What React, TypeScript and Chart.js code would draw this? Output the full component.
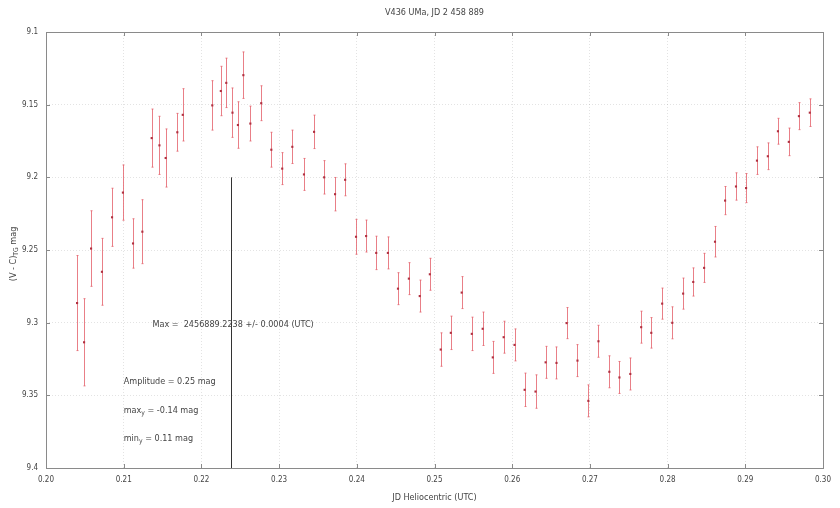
import { useEffect, useRef } from "react";
import { Chart, registerables } from "chart.js";

Chart.register(...registerables);

// ---- Data ----
const jdFraction = [
  0.2040, 0.2049, 0.2058, 0.2072, 0.2085, 0.2099, 0.2112, 0.2124, 0.2136, 0.2146,
  0.2154, 0.2169, 0.2176, 0.2214, 0.2225, 0.2232, 0.2240, 0.2247, 0.2254, 0.2263,
  0.2277, 0.2290, 0.2304, 0.2317, 0.2332, 0.2345, 0.2358, 0.2372, 0.2385, 0.2399,
  0.2412, 0.2425, 0.2440, 0.2453, 0.2467, 0.2481, 0.2494, 0.2508, 0.2521, 0.2535,
  0.2548, 0.2562, 0.2575, 0.2589, 0.2603, 0.2616, 0.2630, 0.2643, 0.2657, 0.2670,
  0.2684, 0.2698, 0.2711, 0.2725, 0.2738, 0.2752, 0.2766, 0.2779, 0.2793, 0.2806,
  0.2820, 0.2833, 0.2847, 0.2861, 0.2874, 0.2888, 0.2901, 0.2915, 0.2929, 0.2942,
  0.2956, 0.2969, 0.2983,
];

const magnitude = [
  9.2865, 9.3135, 9.2490, 9.2650, 9.2275, 9.2105, 9.2455, 9.2374, 9.1730, 9.1780,
  9.1867, 9.1690, 9.1570, 9.1505, 9.1406, 9.1350, 9.1555, 9.1640, 9.1297, 9.1630,
  9.1490, 9.1810, 9.1940, 9.1790, 9.1980, 9.1687, 9.2000, 9.2116, 9.2017, 9.2409,
  9.2404, 9.2520, 9.2520, 9.2766, 9.2697, 9.2817, 9.2667, 9.3185, 9.3070, 9.2793,
  9.3077, 9.3042, 9.3239, 9.3100, 9.3153, 9.3462, 9.3474, 9.3273, 9.3277, 9.3003,
  9.3261, 9.3538, 9.3128, 9.3338, 9.3377, 9.3353, 9.3031, 9.3070, 9.2869, 9.3001,
  9.2800, 9.2720, 9.2623, 9.2443, 9.2160, 9.2063, 9.2074, 9.1885, 9.1855, 9.1683,
  9.1756, 9.1579, 9.1555,
];

const magError = [
  0.0327, 0.0300, 0.0260, 0.0230, 0.0200, 0.0190, 0.0170, 0.0220, 0.0200, 0.0200,
  0.0200, 0.0130, 0.0180, 0.0170, 0.0170, 0.0170, 0.0170, 0.0160, 0.0160, 0.0120,
  0.0120, 0.0120, 0.0110, 0.0115, 0.0110, 0.0115, 0.0115, 0.0115, 0.0110, 0.0120,
  0.0110, 0.0115, 0.0110, 0.0110, 0.0110, 0.0110, 0.0110, 0.0115, 0.0115, 0.0110,
  0.0115, 0.0115, 0.0110, 0.0110, 0.0110, 0.0115, 0.0115, 0.0110, 0.0110, 0.0107,
  0.0110, 0.0110, 0.0110, 0.0110, 0.0110, 0.0110, 0.0110, 0.0105, 0.0107, 0.0110,
  0.0107, 0.0097, 0.0100, 0.0105, 0.0097, 0.0094, 0.0100, 0.0095, 0.0092, 0.0089,
  0.0095, 0.0093, 0.0095,
];

const xTickValues = [0.2, 0.21, 0.22, 0.23, 0.24, 0.25, 0.26, 0.27, 0.28, 0.29, 0.3];
const yTickValues = [9.1, 9.15, 9.2, 9.25, 9.3, 9.35, 9.4];

const TITLE = "V436 UMa, JD 2 458 889";
const X_TITLE = "JD Heliocentric (UTC)";
const maxTime = 0.2238;
const maxLineMag = [9.2, 9.4];
const maxLabel = "Max =  2456889.2238 +/- 0.0004 (UTC)";
const amplitudeLabel = "Amplitude = 0.25 mag";
const maxYValue = "-0.14 mag";
const minYValue = "0.11 mag";

const FONT = "'Liberation Sans Narrow', 'DejaVu Sans Condensed', 'Liberation Sans', sans-serif";
const TEXT_COLOR = "#444444";

type Part = { t: string; sub?: boolean };

function drawParts(ctx: CanvasRenderingContext2D, parts: Part[], x: number, y: number, size: number, center = false) {
  const widths = parts.map((p) => {
    ctx.font = `${p.sub ? size * 0.75 : size}px ${FONT}`;
    return ctx.measureText(p.t).width;
  });
  const total = widths.reduce((a, b) => a + b, 0);
  let cx = center ? x - total / 2 : x;
  parts.forEach((p, i) => {
    ctx.font = `${p.sub ? size * 0.75 : size}px ${FONT}`;
    ctx.fillText(p.t, cx, p.sub ? y + size * 0.3 : y);
    cx += widths[i];
  });
}

const overlayPlugin = {
  id: "overlay",
  beforeDatasetsDraw(chart: any) {
    const { ctx, scales } = chart;
    const xs = scales.x;
    const ys = scales.y;
    ctx.save();
    // error bars
    ctx.strokeStyle = "rgba(228, 95, 105, 0.8)";
    ctx.lineWidth = 1;
    for (let i = 0; i < jdFraction.length; i++) {
      const px = Math.round(xs.getPixelForValue(jdFraction[i])) + 0.5;
      const top = ys.getPixelForValue(magnitude[i] - magError[i]);
      const bot = ys.getPixelForValue(magnitude[i] + magError[i]);
      ctx.beginPath();
      ctx.moveTo(px, top);
      ctx.lineTo(px, bot);
      ctx.moveTo(px - 1, top);
      ctx.lineTo(px + 1, top);
      ctx.moveTo(px - 1, bot);
      ctx.lineTo(px + 1, bot);
      ctx.stroke();
    }
    // vertical maximum line
    const lx = Math.round(xs.getPixelForValue(maxTime)) + 0.5;
    ctx.strokeStyle = "#333";
    ctx.beginPath();
    ctx.moveTo(lx, ys.getPixelForValue(maxLineMag[0]));
    ctx.lineTo(lx, ys.getPixelForValue(maxLineMag[1]));
    ctx.stroke();
    ctx.restore();
  },
  afterDraw(chart: any) {
    const { ctx, chartArea, scales } = chart;
    const xs = scales.x;
    const ys = scales.y;
    const { left, right, top, bottom } = chartArea;
    ctx.save();
    // frame
    ctx.strokeStyle = "#8a8a8a";
    ctx.lineWidth = 1;
    ctx.strokeRect(Math.round(left) + 0.5, Math.round(top) + 0.5, Math.round(right - left), Math.round(bottom - top));
    // inward ticks
    ctx.beginPath();
    xTickValues.forEach((v) => {
      const px = Math.round(xs.getPixelForValue(v)) + 0.5;
      ctx.moveTo(px, bottom);
      ctx.lineTo(px, bottom - 4);
      ctx.moveTo(px, top);
      ctx.lineTo(px, top + 4);
    });
    yTickValues.forEach((v) => {
      const py = Math.round(ys.getPixelForValue(v)) + 0.5;
      ctx.moveTo(left, py);
      ctx.lineTo(left + 4, py);
      ctx.moveTo(right, py);
      ctx.lineTo(right - 4, py);
    });
    ctx.stroke();

    ctx.fillStyle = TEXT_COLOR;
    ctx.textBaseline = "middle";
    // title
    ctx.textAlign = "center";
    ctx.font = `9px ${FONT}`;
    ctx.fillText(TITLE, (left + right) / 2, 13);
    ctx.fillText(X_TITLE, (left + right) / 2, 498);
    // y title rotated
    ctx.save();
    ctx.translate(14, (top + bottom) / 2 + 4);
    ctx.rotate(-Math.PI / 2);
    ctx.textAlign = "left";
    drawParts(ctx, [{ t: "(V - C)" }, { t: "TG", sub: true }, { t: " mag" }], 0, 0, 9, true);
    ctx.restore();

    // annotations
    ctx.textAlign = "left";
    ctx.font = `9px ${FONT}`;
    ctx.fillText(maxLabel, xs.getPixelForValue(0.2137), ys.getPixelForValue(9.3011));
    const ax = xs.getPixelForValue(0.21);
    ctx.fillText(amplitudeLabel, ax, ys.getPixelForValue(9.3408));
    drawParts(ctx, [{ t: "max" }, { t: "y", sub: true }, { t: " = " + maxYValue }], ax, ys.getPixelForValue(9.3603), 9);
    drawParts(ctx, [{ t: "min" }, { t: "y", sub: true }, { t: " = " + minYValue }], ax, ys.getPixelForValue(9.3796), 9);
    ctx.restore();
  },
};

export default function App() {
  const canvasRef = useRef<HTMLCanvasElement | null>(null);

  useEffect(() => {
    document.body.style.margin = "0";
    const canvas = canvasRef.current;
    if (!canvas) return;
    const points = jdFraction.map((x, i) => ({ x, y: magnitude[i] }));
    const chart = new Chart(canvas, {
      type: "scatter",
      data: {
        datasets: [
          {
            label: "V436 UMa",
            data: points,
            pointRadius: 1.5,
            pointHoverRadius: 1.5,
            pointStyle: "rect",
            backgroundColor: "#b03040",
            borderColor: "#b03040",
            borderWidth: 0,
          },
        ],
      },
      options: {
        animation: false,
        responsive: true,
        maintainAspectRatio: false,
        layout: { padding: { top: 32, right: 17, left: 0, bottom: 0 } },
        plugins: {
          legend: { display: false },
          tooltip: { enabled: false },
          title: { display: false },
        },
        scales: {
          x: {
            type: "linear",
            min: 0.2,
            max: 0.3,
            afterFit: (s: any) => {
              s.height = 40;
            },
            afterBuildTicks: (s: any) => {
              s.ticks = xTickValues.map((v) => ({ value: v }));
            },
            ticks: {
              padding: 7,
              color: TEXT_COLOR,
              font: { size: 8, family: FONT },
              callback: (v: any) => Number(v).toFixed(2),
              maxRotation: 0,
            },
            grid: { color: "rgba(0,0,0,0.11)", drawTicks: false, lineWidth: 1 },
            border: { display: false, dash: [1, 2] },
          },
          y: {
            type: "linear",
            reverse: true,
            min: 9.1,
            max: 9.4,
            afterFit: (s: any) => {
              s.width = 46;
            },
            afterBuildTicks: (s: any) => {
              s.ticks = yTickValues.map((v) => ({ value: v }));
            },
            ticks: {
              padding: 8,
              color: TEXT_COLOR,
              font: { size: 8, family: FONT },
              callback: (v: any) => String(Number(Number(v).toFixed(2))),
            },
            grid: { color: "rgba(0,0,0,0.11)", drawTicks: false, lineWidth: 1 },
            border: { display: false, dash: [1, 2] },
          },
        },
      },
      plugins: [overlayPlugin],
    });
    return () => chart.destroy();
  }, []);

  return (
    <div style={{ width: 840, height: 508, position: "relative", background: "#fff" }}>
      <canvas ref={canvasRef} />
    </div>
  );
}
